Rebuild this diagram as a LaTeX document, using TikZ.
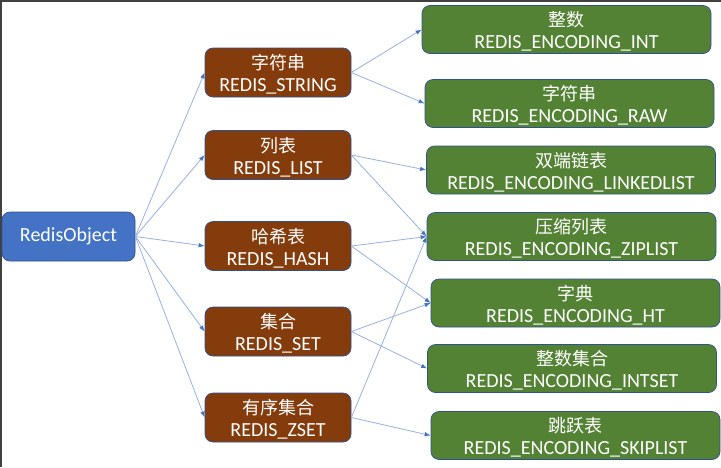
\documentclass[tikz,border=0pt]{standalone}
\usepackage{fontspec}
\setmainfont{Carlito}
\newfontfamily\cjk{Noto Sans CJK SC}
\usetikzlibrary{arrows.meta}

\definecolor{objblue}{RGB}{68,114,196}
\definecolor{typebrown}{RGB}{132,60,12}
\definecolor{encgreen}{RGB}{84,130,53}
\definecolor{edgeblue}{RGB}{47,82,143}
\definecolor{linkblue}{RGB}{150,176,224}

\newcommand{\zh}[1]{{\cjk\fontsize{18}{22}\selectfont\rule{0pt}{19pt}#1}}

\tikzset{
  box/.style={draw=edgeblue,line width=0.7pt,rounded corners=8pt,text=white,
    align=center,inner sep=0pt,font=\fontsize{20}{22}\selectfont},
  objbox/.style={box,fill=objblue,minimum width=133pt,minimum height=49pt},
  typebox/.style={box,fill=typebrown,minimum width=146pt,minimum height=49pt},
  encbox/.style={box,fill=encgreen,minimum width=289pt,minimum height=48pt},
  link/.style={linkblue,line width=0.8pt,-{Latex[length=6pt,width=4.5pt,color=objblue]}}
}

\begin{document}
\begin{tikzpicture}[x=1pt,y=-1pt]
\useasboundingbox (0,0) rectangle (721,467);
\draw[line width=2.4pt,black!75] (0,1.2)--(721,1.2);
\draw[line width=2.4pt,black!75] (1.2,0)--(1.2,467);

\node[objbox] (obj) at (68.5,236.5) {RedisObject};

\node[typebox] (str) at (278,72.5) {\zh{字符串}\\REDIS\_STRING};
\node[typebox] (list) at (278,155) {\zh{列表}\\REDIS\_LIST};
\node[typebox] (hash) at (278,246) {\zh{哈希表}\\REDIS\_HASH};
\node[typebox] (set) at (278,331.5) {\zh{集合}\\REDIS\_SET};
\node[typebox] (zset) at (278,417.5) {\zh{有序集合}\\REDIS\_ZSET};

\node[encbox] (int) at (566.5,29.5) {\zh{整数}\\REDIS\_ENCODING\_INT};
\node[encbox] (raw) at (569.5,103.5) {\zh{字符串}\\REDIS\_ENCODING\_RAW};
\node[encbox] (linked) at (571,170) {\zh{双端链表}\\REDIS\_ENCODING\_LINKEDLIST};
\node[encbox] (zip) at (571.5,236.5) {\zh{压缩列表}\\REDIS\_ENCODING\_ZIPLIST};
\node[encbox] (ht) at (575.5,303) {\zh{字典}\\REDIS\_ENCODING\_HT};
\node[encbox] (intset) at (572,368.5) {\zh{整数集合}\\REDIS\_ENCODING\_INTSET};
\node[encbox] (skip) at (575.5,435.5) {\zh{跳跃表}\\REDIS\_ENCODING\_SKIPLIST};

\draw[link] (obj.east)--(str.west);
\draw[link] (obj.east)--(list.west);
\draw[link] (obj.east)--(hash.west);
\draw[link] (obj.east)--(set.west);
\draw[link] (obj.east)--(zset.west);

\draw[link] (str.east)--(int.west);
\draw[link] (str.east)--(raw.west);
\draw[link] (list.east)--(linked.west);
\draw[link] (list.east)--(zip.west);
\draw[link] (hash.east)--(zip.west);
\draw[link] (hash.east)--(ht.west);
\draw[link] (set.east)--(ht.west);
\draw[link] (set.east)--(intset.west);
\draw[link] (zset.east)--(zip.west);
\draw[link] (zset.east)--(skip.west);
\end{tikzpicture}
\end{document}
